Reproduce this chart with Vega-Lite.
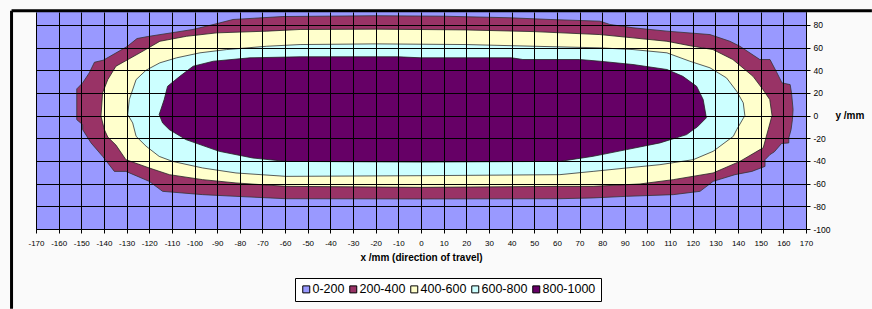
{
  "$schema": "https://vega.github.io/schema/vega-lite/v6.json",
  "width": 770,
  "height": 217,
  "autosize": {"type": "none"},
  "padding": {"left": 36, "top": 12, "right": 66, "bottom": 80},
  "background": "#fafafa",
  "config": {"view": {"stroke": "#777", "strokeWidth": 1}, "font": "Liberation Sans"},
  "data": {"values": [
    {"b":"0-200","i":0,"x":-170,"y":-100},{"b":"0-200","i":1,"x":170,"y":-100},{"b":"0-200","i":2,"x":170,"y":91.3},{"b":"0-200","i":3,"x":-170,"y":91.3},{"b":"0-200","i":4,"x":-170,"y":-100},

    {"b":"200-400","i":0,"x":-152,"y":-3.6},{"b":"200-400","i":1,"x":-152,"y":23.5},{"b":"200-400","i":2,"x":-149.4,"y":28.8},{"b":"200-400","i":3,"x":-146.5,"y":37.6},{"b":"200-400","i":4,"x":-144.2,"y":47},{"b":"200-400","i":5,"x":-140.3,"y":48.8},{"b":"200-400","i":6,"x":-129.8,"y":60.8},{"b":"200-400","i":7,"x":-125.4,"y":67.9},{"b":"200-400","i":8,"x":-120.6,"y":69.7},{"b":"200-400","i":9,"x":-100.7,"y":75.9},{"b":"200-400","i":10,"x":-90,"y":81.1},{"b":"200-400","i":11,"x":-83,"y":84.7},{"b":"200-400","i":12,"x":-61,"y":87.3},{"b":"200-400","i":13,"x":-20,"y":88},{"b":"200-400","i":14,"x":10,"y":87.6},{"b":"200-400","i":15,"x":39.3,"y":86.2},{"b":"200-400","i":16,"x":57,"y":84.7},{"b":"200-400","i":17,"x":79,"y":83.2},{"b":"200-400","i":18,"x":83.4,"y":80.3},{"b":"200-400","i":19,"x":93.6,"y":77.4},{"b":"200-400","i":20,"x":108.6,"y":74.4},{"b":"200-400","i":21,"x":127.6,"y":71.4},{"b":"200-400","i":22,"x":136.4,"y":65.5},{"b":"200-400","i":23,"x":140.8,"y":61.1},{"b":"200-400","i":24,"x":149.6,"y":49.4},{"b":"200-400","i":25,"x":154.1,"y":49.4},{"b":"200-400","i":26,"x":157.2,"y":37.6},{"b":"200-400","i":27,"x":159.4,"y":28.8},{"b":"200-400","i":28,"x":163,"y":27.3},{"b":"200-400","i":29,"x":163.6,"y":20},{"b":"200-400","i":30,"x":164.3,"y":5.3},{"b":"200-400","i":31,"x":164,"y":-3.6},{"b":"200-400","i":32,"x":163.4,"y":-12.4},{"b":"200-400","i":33,"x":162.4,"y":-19.7},{"b":"200-400","i":34,"x":162.4,"y":-24.1},{"b":"200-400","i":35,"x":159.2,"y":-24.6},{"b":"200-400","i":36,"x":156,"y":-32},{"b":"200-400","i":37,"x":154.1,"y":-34.4},{"b":"200-400","i":38,"x":151.9,"y":-38.9},{"b":"200-400","i":39,"x":151.9,"y":-44.8},{"b":"200-400","i":40,"x":146.1,"y":-49.2},{"b":"200-400","i":41,"x":138.6,"y":-52.1},{"b":"200-400","i":42,"x":129,"y":-58},{"b":"200-400","i":43,"x":123.2,"y":-66.8},{"b":"200-400","i":44,"x":111.4,"y":-69.7},{"b":"200-400","i":45,"x":90.8,"y":-71.2},{"b":"200-400","i":46,"x":76,"y":-72.6},{"b":"200-400","i":47,"x":61.3,"y":-73.3},{"b":"200-400","i":48,"x":0,"y":-73.5},{"b":"200-400","i":49,"x":-59.6,"y":-73.3},{"b":"200-400","i":50,"x":-81.7,"y":-71.2},{"b":"200-400","i":51,"x":-96.4,"y":-69.7},{"b":"200-400","i":52,"x":-114.1,"y":-66.8},{"b":"200-400","i":53,"x":-120,"y":-58},{"b":"200-400","i":54,"x":-130.3,"y":-49.2},{"b":"200-400","i":55,"x":-135.4,"y":-49.2},{"b":"200-400","i":56,"x":-140.6,"y":-35.9},{"b":"200-400","i":57,"x":-145.7,"y":-24.1},{"b":"200-400","i":58,"x":-149.4,"y":-12.4},{"b":"200-400","i":59,"x":-149.4,"y":-8},{"b":"200-400","i":60,"x":-152,"y":-3.6},

    {"b":"400-600","i":0,"x":-141.3,"y":-0.6},{"b":"400-600","i":1,"x":-140.6,"y":20},{"b":"400-600","i":2,"x":-138.3,"y":31.7},{"b":"400-600","i":3,"x":-134.7,"y":43.5},{"b":"400-600","i":4,"x":-124.1,"y":55.3},{"b":"400-600","i":5,"x":-115.3,"y":65.5},{"b":"400-600","i":6,"x":-103.5,"y":69.9},{"b":"400-600","i":7,"x":-90.2,"y":72.9},{"b":"400-600","i":8,"x":-68.1,"y":74.4},{"b":"400-600","i":9,"x":-53.4,"y":75.9},{"b":"400-600","i":10,"x":-20,"y":76.2},{"b":"400-600","i":11,"x":20,"y":75.5},{"b":"400-600","i":12,"x":50,"y":74},{"b":"400-600","i":13,"x":79,"y":71.4},{"b":"400-600","i":14,"x":93.6,"y":68.5},{"b":"400-600","i":15,"x":108.6,"y":65.5},{"b":"400-600","i":16,"x":120,"y":61.1},{"b":"400-600","i":17,"x":128.9,"y":58.2},{"b":"400-600","i":18,"x":137.7,"y":49.4},{"b":"400-600","i":19,"x":146.6,"y":34.6},{"b":"400-600","i":20,"x":151,"y":22.9},{"b":"400-600","i":21,"x":154,"y":14.1},{"b":"400-600","i":22,"x":155,"y":0},{"b":"400-600","i":23,"x":153.3,"y":-12.4},{"b":"400-600","i":24,"x":151.1,"y":-28.5},{"b":"400-600","i":25,"x":149.7,"y":-30},{"b":"400-600","i":26,"x":140.8,"y":-40.4},{"b":"400-600","i":27,"x":129,"y":-50.6},{"b":"400-600","i":28,"x":111.4,"y":-56.5},{"b":"400-600","i":29,"x":96.7,"y":-60.3},{"b":"400-600","i":30,"x":76,"y":-62.4},{"b":"400-600","i":31,"x":61.3,"y":-62.4},{"b":"400-600","i":32,"x":0,"y":-63.3},{"b":"400-600","i":33,"x":-59.6,"y":-62.4},{"b":"400-600","i":34,"x":-81.7,"y":-59.4},{"b":"400-600","i":35,"x":-96.4,"y":-56.5},{"b":"400-600","i":36,"x":-111.1,"y":-52.1},{"b":"400-600","i":37,"x":-120,"y":-46.2},{"b":"400-600","i":38,"x":-130.3,"y":-38.9},{"b":"400-600","i":39,"x":-134.7,"y":-26},{"b":"400-600","i":40,"x":-138.3,"y":-19},{"b":"400-600","i":41,"x":-139.8,"y":-12.4},{"b":"400-600","i":42,"x":-141.3,"y":-0.6},

    {"b":"600-800","i":0,"x":-129.5,"y":0.9},{"b":"600-800","i":1,"x":-128.8,"y":14.1},{"b":"600-800","i":2,"x":-125.8,"y":31.7},{"b":"600-800","i":3,"x":-121.4,"y":40},{"b":"600-800","i":4,"x":-115.3,"y":46.5},{"b":"600-800","i":5,"x":-107.9,"y":50.9},{"b":"600-800","i":6,"x":-97.6,"y":55.3},{"b":"600-800","i":7,"x":-85.8,"y":58.2},{"b":"600-800","i":8,"x":-68.1,"y":61.1},{"b":"600-800","i":9,"x":-53.4,"y":62.6},{"b":"600-800","i":10,"x":-20,"y":63.2},{"b":"600-800","i":11,"x":20,"y":62.6},{"b":"600-800","i":12,"x":50,"y":61.1},{"b":"600-800","i":13,"x":79,"y":59.7},{"b":"600-800","i":14,"x":93.6,"y":58.2},{"b":"600-800","i":15,"x":108.6,"y":55.3},{"b":"600-800","i":16,"x":118.7,"y":47.9},{"b":"600-800","i":17,"x":127.6,"y":42.1},{"b":"600-800","i":18,"x":134.9,"y":33.2},{"b":"600-800","i":19,"x":139.4,"y":21.4},{"b":"600-800","i":20,"x":142.3,"y":11.2},{"b":"600-800","i":21,"x":143,"y":0},{"b":"600-800","i":22,"x":139.4,"y":-12.4},{"b":"600-800","i":23,"x":137.9,"y":-18.3},{"b":"600-800","i":24,"x":129,"y":-31.5},{"b":"600-800","i":25,"x":120.2,"y":-38.9},{"b":"600-800","i":26,"x":105.5,"y":-43.3},{"b":"600-800","i":27,"x":90.8,"y":-46.2},{"b":"600-800","i":28,"x":76,"y":-49.2},{"b":"600-800","i":29,"x":61.3,"y":-52.1},{"b":"600-800","i":30,"x":0,"y":-53},{"b":"600-800","i":31,"x":-59.6,"y":-53.6},{"b":"600-800","i":32,"x":-81.7,"y":-50.6},{"b":"600-800","i":33,"x":-96.4,"y":-46.2},{"b":"600-800","i":34,"x":-109.7,"y":-40.4},{"b":"600-800","i":35,"x":-115.6,"y":-36},{"b":"600-800","i":36,"x":-121.4,"y":-27},{"b":"600-800","i":37,"x":-125.8,"y":-18.3},{"b":"600-800","i":38,"x":-127.3,"y":-6.5},{"b":"600-800","i":39,"x":-129.5,"y":0.9},

    {"b":"800-1000","i":0,"x":-115.6,"y":0.9},{"b":"800-1000","i":1,"x":-113.4,"y":14.1},{"b":"800-1000","i":2,"x":-111.9,"y":25.8},{"b":"800-1000","i":3,"x":-106.5,"y":34.6},{"b":"800-1000","i":4,"x":-100.6,"y":43.5},{"b":"800-1000","i":5,"x":-91.7,"y":47.9},{"b":"800-1000","i":6,"x":-75.5,"y":50.9},{"b":"800-1000","i":7,"x":-53.4,"y":51.8},{"b":"800-1000","i":8,"x":-10,"y":51.8},{"b":"800-1000","i":9,"x":0,"y":50.9},{"b":"800-1000","i":10,"x":40,"y":50.9},{"b":"800-1000","i":11,"x":45,"y":49.4},{"b":"800-1000","i":12,"x":70,"y":49.4},{"b":"800-1000","i":13,"x":79,"y":47.9},{"b":"800-1000","i":14,"x":93.6,"y":45},{"b":"800-1000","i":15,"x":108.6,"y":40.6},{"b":"800-1000","i":16,"x":115.6,"y":34.6},{"b":"800-1000","i":17,"x":121.7,"y":25.8},{"b":"800-1000","i":18,"x":124.6,"y":14.1},{"b":"800-1000","i":19,"x":126,"y":-2},{"b":"800-1000","i":20,"x":122,"y":-10},{"b":"800-1000","i":21,"x":120.2,"y":-12.4},{"b":"800-1000","i":22,"x":117.3,"y":-16.8},{"b":"800-1000","i":23,"x":105.5,"y":-24.1},{"b":"800-1000","i":24,"x":90.8,"y":-30},{"b":"800-1000","i":25,"x":76,"y":-35.9},{"b":"800-1000","i":26,"x":61.3,"y":-40.4},{"b":"800-1000","i":27,"x":0,"y":-41},{"b":"800-1000","i":28,"x":-59.6,"y":-40.4},{"b":"800-1000","i":29,"x":-74.3,"y":-37.4},{"b":"800-1000","i":30,"x":-89.1,"y":-31.5},{"b":"800-1000","i":31,"x":-103.8,"y":-21.2},{"b":"800-1000","i":32,"x":-111.1,"y":-12.4},{"b":"800-1000","i":33,"x":-114.1,"y":-6.5},{"b":"800-1000","i":34,"x":-115.6,"y":0.9}
  ]},
  "layer": [
    {
      "encoding": {
        "x": {"field": "x", "type": "quantitative", "scale": {"domain": [-170, 170], "nice": false, "zero": false},
          "axis": {"values": [-170,-160,-150,-140,-130,-120,-110,-100,-90,-80,-70,-60,-50,-40,-30,-20,-10,0,10,20,30,40,50,60,70,80,90,100,110,120,130,140,150,160,170],
            "labelExpr": "'' + datum.value",
            "title": "x /mm (direction of travel)", "titleFontSize": 10, "titleFontWeight": "bold", "titleColor": "#000", "titlePadding": 5,
            "labelFontSize": 8, "labelColor": "#000", "labelPadding": 6, "labelFlush": false, "labelOverlap": false, "labelAngle": 0,
            "tickColor": "#000", "tickSize": 4, "domainColor": "#000",
            "grid": true, "gridColor": "#000", "gridWidth": 1, "gridOpacity": 1, "zindex": 1}},
        "y": {"field": "y", "type": "quantitative", "scale": {"domain": [-100, 91.3], "nice": false, "zero": false},
          "axis": {"orient": "right", "values": [-100,-80,-60,-40,-20,0,20,40,60,80],
            "labelExpr": "'' + datum.value",
            "title": "y /mm", "titleAngle": 0, "titleAlign": "left", "titleBaseline": "middle", "titleX": 29, "titleY": 103.5,
            "titleFontSize": 10, "titleFontWeight": "bold", "titleColor": "#000",
            "labelFontSize": 8.5, "labelColor": "#000", "labelPadding": 3, "labelFlush": false, "labelOverlap": false,
            "tickColor": "#000", "tickSize": 4, "domainColor": "#000",
            "grid": true, "gridColor": "#000", "gridWidth": 1, "gridOpacity": 1, "zindex": 1}},
        "order": {"field": "i", "type": "quantitative"},
        "fill": {"field": "b", "type": "nominal",
          "scale": {"domain": ["0-200", "200-400", "400-600", "600-800", "800-1000"], "range": ["#9999FF", "#993366", "#FFFFCC", "#CCFFFF", "#660066"]},
          "legend": {"orient": "none", "legendX": 259, "legendY": 266, "direction": "horizontal", "title": null,
            "symbolType": "square", "symbolSize": 49, "symbolStrokeColor": "#000", "symbolStrokeWidth": 1, "symbolOpacity": 1,
            "labelFontSize": 12.5, "labelColor": "#000", "labelOffset": 0, "columnPadding": 2, "padding": 5,
            "strokeColor": "#000", "fillColor": "#ffffff"}}
      },
      "layer": [
        {"transform": [{"filter": "datum.b === '0-200'"}], "mark": {"type": "line", "stroke": "transparent", "strokeWidth": 0}},
        {"transform": [{"filter": "datum.b === '200-400'"}], "mark": {"type": "line", "stroke": "#333", "strokeWidth": 0.8}},
        {"transform": [{"filter": "datum.b === '400-600'"}], "mark": {"type": "line", "stroke": "#222", "strokeWidth": 0.8}},
        {"transform": [{"filter": "datum.b === '600-800'"}], "mark": {"type": "line", "stroke": "#333", "strokeWidth": 0.8}},
        {"transform": [{"filter": "datum.b === '800-1000'"}], "mark": {"type": "line", "stroke": "#222", "strokeWidth": 0.8}}
      ]
    },
    {
      "data": {"values": [{}]},
      "mark": {"type": "rule", "color": "#000", "strokeWidth": 3},
      "encoding": {
        "x": {"datum": -180.8, "type": "quantitative",
          "axis": {"values": [-170,-160,-150,-140,-130,-120,-110,-100,-90,-80,-70,-60,-50,-40,-30,-20,-10,0,10,20,30,40,50,60,70,80,90,100,110,120,130,140,150,160,170],
            "labelExpr": "'' + datum.value",
            "title": "x /mm (direction of travel)", "titleFontSize": 10, "titleFontWeight": "bold", "titleColor": "#000", "titlePadding": 5,
            "labelFontSize": 8, "labelColor": "#000", "labelPadding": 6, "labelFlush": false, "labelOverlap": false, "labelAngle": 0,
            "tickColor": "#000", "tickSize": 4, "domainColor": "#000",
            "grid": true, "gridColor": "#000", "gridWidth": 1, "gridOpacity": 1, "zindex": 1}},
        "y": {"datum": 92.4, "type": "quantitative",
          "axis": {"orient": "right", "values": [-100,-80,-60,-40,-20,0,20,40,60,80],
            "labelExpr": "'' + datum.value",
            "title": "y /mm", "titleAngle": 0, "titleAlign": "left", "titleBaseline": "middle", "titleX": 29, "titleY": 103.5,
            "titleFontSize": 10, "titleFontWeight": "bold", "titleColor": "#000",
            "labelFontSize": 8.5, "labelColor": "#000", "labelPadding": 3, "labelFlush": false, "labelOverlap": false,
            "tickColor": "#000", "tickSize": 4, "domainColor": "#000",
            "grid": true, "gridColor": "#000", "gridWidth": 1, "gridOpacity": 1, "zindex": 1}},
        "y2": {"datum": -170.3}
      }
    },
    {
      "data": {"values": [{}]},
      "mark": {"type": "rule", "color": "#000", "strokeWidth": 3},
      "encoding": {
        "x": {"datum": -180.8, "type": "quantitative",
          "axis": {"values": [-170,-160,-150,-140,-130,-120,-110,-100,-90,-80,-70,-60,-50,-40,-30,-20,-10,0,10,20,30,40,50,60,70,80,90,100,110,120,130,140,150,160,170],
            "labelExpr": "'' + datum.value",
            "title": "x /mm (direction of travel)", "titleFontSize": 10, "titleFontWeight": "bold", "titleColor": "#000", "titlePadding": 5,
            "labelFontSize": 8, "labelColor": "#000", "labelPadding": 6, "labelFlush": false, "labelOverlap": false, "labelAngle": 0,
            "tickColor": "#000", "tickSize": 4, "domainColor": "#000",
            "grid": true, "gridColor": "#000", "gridWidth": 1, "gridOpacity": 1, "zindex": 1}},
        "x2": {"datum": 199.1},
        "y": {"datum": 92.4, "type": "quantitative",
          "axis": {"orient": "right", "values": [-100,-80,-60,-40,-20,0,20,40,60,80],
            "labelExpr": "'' + datum.value",
            "title": "y /mm", "titleAngle": 0, "titleAlign": "left", "titleBaseline": "middle", "titleX": 29, "titleY": 103.5,
            "titleFontSize": 10, "titleFontWeight": "bold", "titleColor": "#000",
            "labelFontSize": 8.5, "labelColor": "#000", "labelPadding": 3, "labelFlush": false, "labelOverlap": false,
            "tickColor": "#000", "tickSize": 4, "domainColor": "#000",
            "grid": true, "gridColor": "#000", "gridWidth": 1, "gridOpacity": 1, "zindex": 1}}
      }
    }
  ]
}
